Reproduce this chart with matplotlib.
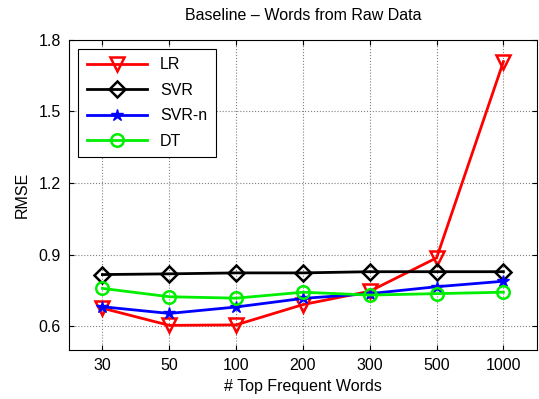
import matplotlib
matplotlib.use('Agg')
import matplotlib.pyplot as plt

plt.rcParams['font.family'] = ['Liberation Sans', 'DejaVu Sans']

words = ['30', '50', '100', '200', '300', '500', '1000']
lr = [0.675, 0.603, 0.605, 0.690, 0.746, 0.886, 1.709]
svr = [0.816, 0.819, 0.823, 0.823, 0.828, 0.828, 0.828]
svr_n = [0.681, 0.653, 0.680, 0.716, 0.736, 0.765, 0.788]
dt = [0.758, 0.723, 0.717, 0.742, 0.730, 0.736, 0.742]

fig = plt.figure(figsize=(5.39, 3.99), dpi=100)
ax = fig.add_axes([0.128, 0.123, 0.868, 0.777])

x = list(range(1, len(words) + 1))
ax.plot(x, lr, color='red', lw=2, marker='v', ms=10, mfc='none', mew=1.8, label='LR')
ax.plot(x, svr, color='black', lw=2, marker='D', ms=8, mfc='none', mew=1.8, label='SVR')
ax.plot(x, svr_n, color='blue', lw=2, marker='*', ms=9, label='SVR-n')
ax.plot(x, dt, color='#00ee00', lw=2, marker='o', ms=9, mfc='none', mew=1.8, label='DT')

ax.set_xlim(0.5, 7.5)
ax.set_ylim(0.5, 1.8)
ax.set_xticks(x)
ax.set_xticklabels(words)
ax.set_yticks([0.6, 0.9, 1.2, 1.5, 1.8])
ax.tick_params(direction='in', top=True, right=True, labelsize=11.5, pad=6)
ax.grid(True, color='gray', linestyle=':', linewidth=0.8)
ax.set_axisbelow(True)

ax.set_title('Baseline \u2013 Words from Raw Data', fontsize=11.5, pad=14)
ax.set_xlabel('# Top Frequent Words', fontsize=11.5, labelpad=4)
ax.set_ylabel('RMSE', fontsize=11.5, labelpad=6)

leg = ax.legend(loc='upper left', fontsize=11.5, fancybox=False, framealpha=1,
                edgecolor='black', handlelength=3.8, borderaxespad=0.55, labelspacing=0.65,
                borderpad=0.55)
leg.get_frame().set_linewidth(0.8)

fig.savefig('out.png', dpi=100)
